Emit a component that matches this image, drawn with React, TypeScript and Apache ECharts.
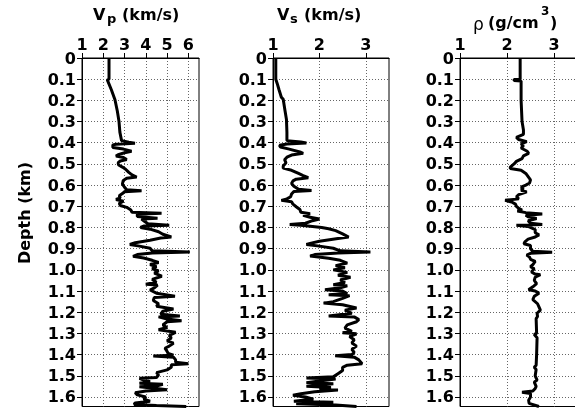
import React, { useEffect, useRef } from 'react';
import * as echarts from 'echarts';

const depthTicks = [0, 0.1, 0.2, 0.3, 0.4, 0.5, 0.6, 0.7, 0.8, 0.9, 1.0, 1.1, 1.2, 1.3, 1.4, 1.5, 1.6];
const vpTicks = [1, 2, 3, 4, 5, 6];
const vsTicks = [1, 2, 3];
const rhoTicks = [1, 2, 3];

// [depth (km), Vp (km/s)]
const vpLog = [
  [0, 2.27], [0.1, 2.27], [0.103, 2.19], [0.15, 2.38], [0.197, 2.55], [0.25, 2.66], [0.3, 2.74], [0.35, 2.78], [0.39, 2.86],
  [0.398, 3.2], [0.402, 3.49], [0.407, 2.6], [0.41, 2.45], [0.422, 2.45], [0.43, 2.95], [0.44, 3.33], [0.447, 3.0], [0.456, 2.7],
  [0.463, 2.6], [0.47, 2.95], [0.479, 3.1], [0.486, 2.8], [0.494, 2.7], [0.505, 2.72], [0.515, 2.9], [0.525, 3.05], [0.54, 3.2],
  [0.552, 3.35], [0.562, 3.57], [0.568, 3.1], [0.578, 2.94], [0.595, 2.9], [0.61, 3.0], [0.622, 3.1], [0.627, 3.8], [0.631, 3.0],
  [0.64, 2.9], [0.65, 2.75], [0.66, 2.8], [0.668, 2.6], [0.676, 2.95], [0.686, 2.75], [0.696, 2.8], [0.705, 3.1], [0.718, 3.3],
  [0.728, 3.35], [0.733, 4.74], [0.737, 3.6], [0.748, 3.6], [0.756, 4.55], [0.76, 3.8], [0.772, 3.95], [0.782, 4.1], [0.789, 5.1],
  [0.793, 3.9], [0.8, 3.75], [0.808, 4.2], [0.82, 4.6], [0.832, 4.8], [0.845, 5.2], [0.85, 4.7], [0.86, 4.2], [0.872, 3.5],
  [0.88, 3.25], [0.888, 3.7], [0.898, 4.2], [0.91, 4.3], [0.916, 6.07], [0.92, 4.3], [0.928, 3.6], [0.936, 3.4], [0.944, 3.9],
  [0.955, 4.3], [0.965, 4.6], [0.975, 4.2], [0.985, 4.5], [0.995, 4.3], [1.005, 4.6], [1.015, 4.4], [1.03, 4.75], [1.045, 4.3],
  [1.058, 4.5], [1.068, 4.0], [1.072, 4.55], [1.085, 4.4], [1.095, 4.2], [1.11, 4.5], [1.125, 5.37], [1.13, 4.4], [1.145, 4.35],
  [1.16, 4.6], [1.172, 4.5], [1.185, 5.3], [1.195, 4.8], [1.21, 4.7], [1.218, 5.6], [1.222, 4.6], [1.232, 5.0], [1.24, 5.68],
  [1.245, 5.0], [1.26, 4.8], [1.272, 5.0], [1.283, 4.6], [1.295, 5.4], [1.31, 5.1], [1.322, 5.2], [1.335, 5.0], [1.346, 5.3],
  [1.36, 5.1], [1.37, 4.9], [1.385, 5.0], [1.395, 5.05], [1.403, 5.3], [1.407, 4.35], [1.412, 5.3], [1.425, 5.4], [1.436, 5.4],
  [1.443, 6.0], [1.448, 5.2], [1.46, 5.2], [1.472, 5.0], [1.485, 4.5], [1.495, 4.6], [1.508, 4.5], [1.512, 3.7], [1.52, 3.9],
  [1.528, 4.2], [1.535, 3.7], [1.54, 4.8], [1.548, 4.5], [1.552, 3.7], [1.56, 4.5], [1.566, 5.0], [1.572, 4.0], [1.58, 3.5],
  [1.59, 3.6], [1.6, 4.0], [1.61, 3.9], [1.62, 4.2], [1.628, 3.5], [1.635, 3.45], [1.64, 4.5], [1.645, 5.9],
];

// [depth (km), Vs (km/s)]
const vsLog = [
  [0, 1.06], [0.1, 1.06], [0.12, 1.09], [0.15, 1.13], [0.185, 1.18], [0.195, 1.22], [0.25, 1.26], [0.29, 1.29], [0.35, 1.3],
  [0.39, 1.3], [0.397, 1.6], [0.401, 1.72], [0.406, 1.3], [0.412, 1.14], [0.42, 1.16], [0.43, 1.35], [0.445, 1.6], [0.45, 1.65],
  [0.458, 1.4], [0.468, 1.3], [0.48, 1.25], [0.495, 1.28], [0.51, 1.22], [0.52, 1.22], [0.53, 1.4], [0.545, 1.55], [0.555, 1.65],
  [0.565, 1.76], [0.572, 1.5], [0.58, 1.43], [0.592, 1.4], [0.605, 1.45], [0.62, 1.55], [0.625, 1.83], [0.63, 1.45], [0.642, 1.4],
  [0.655, 1.38], [0.665, 1.3], [0.672, 1.18], [0.678, 1.4], [0.69, 1.43], [0.702, 1.5], [0.715, 1.58], [0.728, 1.6], [0.735, 1.8],
  [0.742, 1.65], [0.752, 1.8], [0.76, 2.0], [0.768, 1.85], [0.78, 1.7], [0.786, 1.36], [0.79, 1.6], [0.8, 2.05], [0.806, 2.2],
  [0.815, 2.35], [0.83, 2.5], [0.845, 2.63], [0.852, 2.4], [0.865, 2.0], [0.875, 1.8], [0.88, 1.72], [0.888, 2.0], [0.898, 2.3],
  [0.91, 2.45], [0.916, 3.1], [0.92, 2.4], [0.928, 1.9], [0.935, 1.8], [0.945, 2.2], [0.955, 2.45], [0.968, 2.6], [0.98, 2.35],
  [0.99, 2.55], [1.0, 2.3], [1.012, 2.6], [1.025, 2.4], [1.035, 2.67], [1.048, 2.45], [1.06, 2.55], [1.07, 2.3], [1.075, 2.6],
  [1.085, 2.45], [1.094, 2.12], [1.1, 2.5], [1.112, 2.6], [1.118, 2.2], [1.122, 2.65], [1.135, 2.5], [1.15, 2.3], [1.157, 2.09],
  [1.165, 2.5], [1.18, 2.8], [1.19, 2.55], [1.205, 2.7], [1.218, 2.2], [1.222, 2.75], [1.235, 2.85], [1.245, 2.8], [1.26, 2.6],
  [1.275, 2.55], [1.29, 2.7], [1.297, 2.5], [1.302, 2.8], [1.315, 2.65], [1.33, 2.75], [1.345, 2.7], [1.36, 2.8], [1.375, 2.7],
  [1.39, 2.75], [1.4, 2.7], [1.406, 2.34], [1.412, 2.75], [1.425, 2.85], [1.443, 2.92], [1.45, 2.6], [1.46, 2.5], [1.475, 2.5],
  [1.49, 2.4], [1.505, 2.3], [1.51, 1.72], [1.515, 2.35], [1.525, 2.0], [1.533, 1.72], [1.538, 2.3], [1.545, 2.0], [1.55, 1.72],
  [1.555, 2.25], [1.562, 2.0], [1.567, 2.4], [1.575, 1.9], [1.585, 1.6], [1.592, 1.43], [1.6, 1.7], [1.61, 1.87], [1.62, 1.45],
  [1.625, 2.3], [1.632, 1.5], [1.638, 2.35], [1.645, 2.8],
];

// [depth (km), density (g/cm3)]
const rhoLog = [
  [0, 2.28], [0.1, 2.28], [0.102, 2.15], [0.106, 2.15], [0.108, 2.3], [0.2, 2.3], [0.3, 2.32], [0.34, 2.35], [0.36, 2.35],
  [0.375, 2.2], [0.385, 2.25], [0.395, 2.42], [0.405, 2.3], [0.415, 2.35], [0.425, 2.3], [0.44, 2.43], [0.45, 2.46], [0.462, 2.35],
  [0.475, 2.32], [0.488, 2.2], [0.5, 2.15], [0.515, 2.07], [0.522, 2.07], [0.53, 2.3], [0.545, 2.4], [0.56, 2.45], [0.575, 2.5],
  [0.59, 2.48], [0.6, 2.4], [0.61, 2.3], [0.618, 2.35], [0.625, 2.3], [0.632, 2.42], [0.645, 2.25], [0.655, 2.2], [0.665, 2.25],
  [0.672, 1.96], [0.68, 2.1], [0.69, 2.18], [0.7, 2.2], [0.71, 2.25], [0.718, 2.32], [0.722, 2.22], [0.73, 2.4], [0.736, 2.75],
  [0.742, 2.4], [0.75, 2.45], [0.758, 2.63], [0.768, 2.45], [0.78, 2.5], [0.786, 2.75], [0.79, 2.2], [0.795, 2.45], [0.81, 2.6],
  [0.825, 2.6], [0.835, 2.68], [0.845, 2.6], [0.855, 2.45], [0.868, 2.38], [0.877, 2.36], [0.885, 2.5], [0.9, 2.5], [0.912, 2.55],
  [0.917, 2.96], [0.922, 2.5], [0.93, 2.42], [0.94, 2.48], [0.95, 2.5], [0.96, 2.6], [0.975, 2.55], [0.985, 2.5], [0.995, 2.58],
  [1.01, 2.52], [1.02, 2.6], [1.023, 2.71], [1.035, 2.6], [1.05, 2.58], [1.065, 2.63], [1.08, 2.55], [1.094, 2.46], [1.1, 2.6],
  [1.11, 2.68], [1.125, 2.58], [1.14, 2.55], [1.16, 2.65], [1.175, 2.68], [1.19, 2.71], [1.205, 2.64], [1.22, 2.65], [1.23, 2.62],
  [1.3, 2.63], [1.305, 2.58], [1.32, 2.64], [1.4, 2.63], [1.45, 2.62], [1.46, 2.58], [1.47, 2.62], [1.5, 2.6], [1.52, 2.64],
  [1.53, 2.58], [1.55, 2.62], [1.56, 2.6], [1.572, 2.55], [1.578, 2.32], [1.584, 2.5], [1.6, 2.5], [1.615, 2.46], [1.63, 2.47],
  [1.645, 2.68],
];

const FONT = 'DejaVu Sans';
const DEPTH_MAX = 1.645;

const panels = [
  { left: 82, width: 117, min: 1, max: 6.5, ticks: vpTicks, log: vpLog },
  { left: 273, width: 116, min: 1, max: 3.5, ticks: vsTicks, log: vsLog },
  { left: 460, width: 117.5, min: 1, max: 3.5, ticks: rhoTicks, log: rhoLog },
];

const gridLine = { show: true, lineStyle: { color: '#666', width: 1, type: [1, 2] as any } };
const labelStyle = { fontFamily: FONT, fontWeight: 'bold' as const, fontSize: 16, color: '#000' };

function titleText(text: string, x: number, y: number, size: number, bold = true) {
  return {
    type: 'text',
    x,
    y,
    style: {
      text,
      fontFamily: FONT,
      fontWeight: bold ? 'bold' : 'normal',
      fontSize: size,
      fill: '#000',
      align: 'left',
      verticalAlign: 'middle',
    },
  };
}

export default function App() {
  const ref = useRef<HTMLDivElement>(null);
  useEffect(() => {
    document.body.style.overflow = 'hidden';
    const chart = echarts.init(ref.current!, undefined, { renderer: 'svg' });
    const option: any = {
      animation: false,
      grid: panels.map((p) => ({
        left: p.left,
        top: 58,
        width: p.width,
        height: 348.5,
        show: true,
        borderColor: '#000',
        borderWidth: 1,
        backgroundColor: 'transparent',
      })),
      xAxis: panels.map((p, i) => ({
        type: 'value',
        gridIndex: i,
        position: 'top',
        min: p.min,
        max: p.max,
        interval: 1,
        axisLine: { show: true, lineStyle: { color: '#000', width: 1 } },
        axisTick: { show: true, length: 5, lineStyle: { color: '#000' }, customValues: p.ticks },
        axisLabel: { ...labelStyle, margin: 6, customValues: p.ticks },
        splitLine: gridLine,
      })),
      yAxis: panels.map((p, i) => ({
        type: 'value',
        gridIndex: i,
        inverse: true,
        min: 0,
        max: DEPTH_MAX,
        interval: 0.1,
        axisLine: { show: true, lineStyle: { color: '#000', width: 1 } },
        axisTick: { show: true, length: 5, lineStyle: { color: '#000' }, customValues: depthTicks },
        axisLabel: {
          ...labelStyle,
          margin: 6,
          customValues: depthTicks,
          formatter: (v: number) => (v === 0 ? '0' : v.toFixed(1)),
        },
        splitLine: gridLine,
      })),
      series: panels.map((p, i) => ({
        type: 'line',
        xAxisIndex: i,
        yAxisIndex: i,
        data: p.log.map(([d, v]) => [v, d]),
        symbol: 'none',
        lineStyle: { color: '#000', width: 3 },
        clip: true,
      })),
      graphic: [
        titleText('V', 93, 14, 16),
        titleText('p', 107, 18, 13),
        titleText('(km/s)', 122, 14, 16),
        titleText('V', 277, 14, 16),
        titleText('s', 290, 18, 13),
        titleText('(km/s)', 304, 14, 16),
        titleText('ρ', 473, 24, 17, false),
        titleText('(g/cm', 488, 22, 16),
        titleText('3', 541, 11, 12),
        titleText(')', 550, 22, 16),
        {
          type: 'text',
          x: 24,
          y: 213,
          rotation: Math.PI / 2,
          style: {
            text: 'Depth (km)',
            fontFamily: FONT,
            fontWeight: 'bold',
            fontSize: 16,
            fill: '#000',
            align: 'center',
            verticalAlign: 'middle',
          },
        },
      ],
    };
    chart.setOption(option);
    return () => chart.dispose();
  }, []);
  return <div ref={ref} style={{ position: 'fixed', left: 0, top: 0, width: 580, height: 411 }} />;
}
